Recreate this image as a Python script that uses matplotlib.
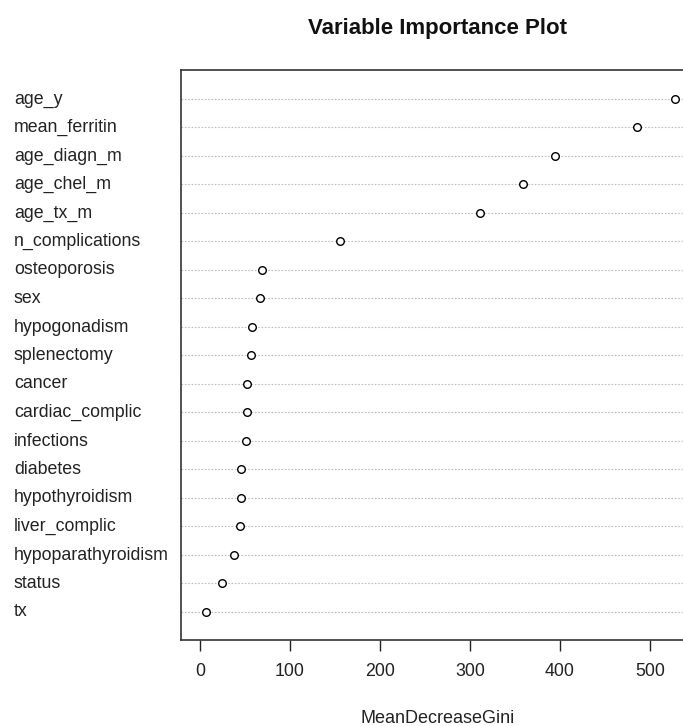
import matplotlib
matplotlib.use("Agg")
import matplotlib.pyplot as plt
import matplotlib.transforms as mtransforms

plt.rcParams['font.family'] = ['Liberation Sans', 'DejaVu Sans']

variables = ["age_y", "mean_ferritin", "age_diagn_m", "age_chel_m", "age_tx_m",
             "n_complications", "osteoporosis", "sex", "hypogonadism", "splenectomy",
             "cancer", "cardiac_complic", "infections", "diabetes", "hypothyroidism",
             "liver_complic", "hypoparathyroidism", "status", "tx"]
gini = [528, 486, 395, 359, 311, 156, 69, 67, 58, 57, 52, 52, 51, 46, 46, 44, 38, 24.5, 7]
xticks = [0, 100, 200, 300, 400, 500]

W, H = 683, 726
fig = plt.figure(figsize=(W / 100, H / 100), dpi=100)
left, right, top, bottom = 181, 694, 70, 640
ax = fig.add_axes([left / W, 1 - bottom / H, (right - left) / W, (bottom - top) / H])

n = len(variables)
ypos = [n - i for i in range(n)]
xmin, xmax = 0, max(gini)
ext = 0.04 * (xmax - xmin)
ax.set_xlim(xmin - ext, xmax + ext)
ax.set_ylim(0, n + 1)

for y in ypos:
    ax.axhline(y, color='#bdbdbd', lw=0.8, ls=(0, (1.5, 1.5)), zorder=1)
ax.scatter(gini, ypos, s=30, facecolors='white', edgecolors='black', linewidths=1.0, zorder=3)

ax.set_yticks([])
ax.set_xticks(xticks)
ax.tick_params(axis='x', direction='out', length=8, width=1, pad=8.5, labelsize=12.8,
               colors='#222222')
for s in ax.spines.values():
    s.set_color('#333333')
    s.set_linewidth(1.2)

trans = mtransforms.blended_transform_factory(fig.transFigure, ax.transData)
trans = mtransforms.offset_copy(trans, fig=fig, x=0, y=-5, units='dots')
for name, y in zip(variables, ypos):
    ax.text(14 / W, y, name, transform=trans, ha='left', va='baseline', fontsize=12.8,
            color='#222222')

cx = (left + right) / 2 / W
fig.text(cx, 1 - 34 / H, "Variable Importance Plot", ha='center', va='baseline',
         fontsize=16, fontweight='bold', color='#111111')
fig.text(cx, 1 - 723 / H, "MeanDecreaseGini", ha='center', va='baseline', fontsize=13,
         color='#222222')

fig.savefig("out.png", dpi=100)
